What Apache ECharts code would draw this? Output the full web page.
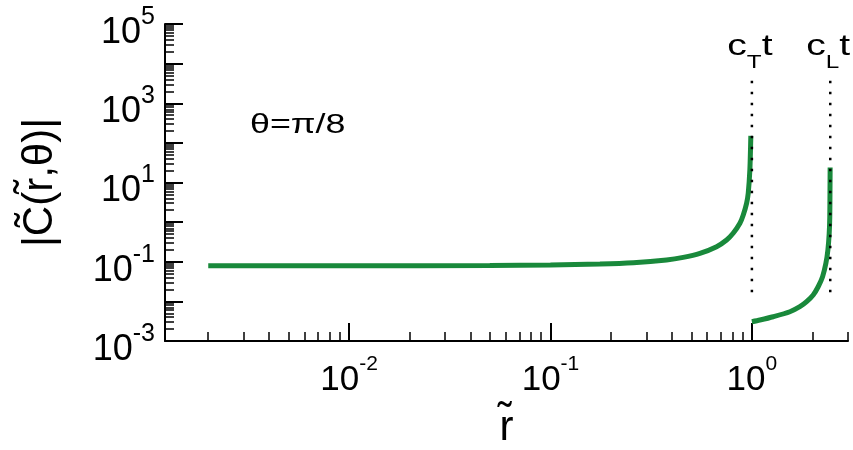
<!DOCTYPE html>
<html>
<head>
<meta charset="utf-8">
<script src="https://cdn.jsdelivr.net/npm/echarts@6/dist/echarts.min.js"></script>
<style>
  html, body { margin: 0; padding: 0; background: #fff; }
  #chart { width: 853px; height: 450px; }
</style>
</head>
<body>
<div id="chart"></div>
<script>
// branch up to the transverse front (r = c_T t)
const rTransverse = [0.002, 0.01, 0.05, 0.1, 0.176, 0.258, 0.377, 0.456, 0.552, 0.668, 0.749, 0.807, 0.872, 0.906, 0.941, 0.959, 0.977, 0.988]
const cTransverse = [0.0791, 0.0793, 0.080, 0.0828, 0.0877, 0.0946, 0.111, 0.129, 0.163, 0.240, 0.354, 0.522, 0.934, 1.51, 2.98, 5.33, 20.7, 150]
// branch between the two fronts
const rLongitudinal = [1.0, 1.096, 1.276, 1.544, 1.730, 1.869, 2.015, 2.133, 2.243, 2.330, 2.384, 2.420, 2.436, 2.442, 2.446]
const cLongitudinal = [0.00307, 0.00339, 0.00410, 0.00548, 0.00734, 0.00982, 0.0145, 0.0234, 0.0420, 0.0914, 0.198, 0.522, 1.37, 6.47, 24]

// wave fronts c_T t and c_L t
const frontR = [1, 2.449]
const frontSub = ['T', 'L']
const frontSpan = [0.0105, 3700]

const xRange = [0.00122, 3]
const yRange = [1e-3, 1e5]
const xMajorExp = [-2, -1, 0]
const yMajorExp = [-3, -2, -1, 0, 1, 2, 3, 4, 5]
const yLabelExp = [-3, -1, 1, 3, 5]
const angleText = 'θ=π/8'

const font = "'Liberation Sans', Arial, Helvetica, sans-serif"
const green = '#19893b'
const L = Math.log10

// log minor ticks (2..9 x 10^d) inside a range
function minorTicks(lo, hi) {
  const out = []
  for (let d = Math.floor(L(lo)); d <= Math.ceil(L(hi)); d++) {
    for (let k = 2; k <= 9; k++) {
      const v = k * Math.pow(10, d)
      if (v >= lo && v <= hi * 1.0001) out.push(L(v))
    }
  }
  return out
}

function pow10(v) {
  return '{b|10}{e|' + Math.round(v) + '}'
}

const chart = echarts.init(document.getElementById('chart'))

const minorAxis = (range, ticks, pos) => ({
  type: 'value',
  min: L(range[0]),
  max: L(range[1]),
  position: pos,
  axisLine: { show: false, onZero: false },
  axisTick: { customValues: ticks, inside: true, length: 9, lineStyle: { color: '#000', width: 1.5 } },
  axisLabel: { show: false },
  splitLine: { show: false }
})

chart.setOption({
  animation: false,
  backgroundColor: '#fff',
  grid: { left: 165, top: 24, width: 683, height: 317, containLabel: false, outerBoundsMode: 'none' },
  xAxis: [{
    type: 'value',
    min: L(xRange[0]),
    max: L(xRange[1]),
    position: 'bottom',
    axisLine: { onZero: false, lineStyle: { color: '#000', width: 2 } },
    axisTick: { customValues: xMajorExp, inside: true, length: 18, lineStyle: { color: '#000', width: 2 } },
    axisLabel: {
      customValues: xMajorExp,
      margin: 13,
      color: '#000',
      formatter: pow10,
      rich: {
        b: { fontSize: 35, fontFamily: font, color: '#000' },
        e: { fontSize: 21, fontFamily: font, color: '#000', padding: [0, 0, 31, 0] }
      }
    },
    splitLine: { show: false },
    name: 'r\u0303',
    nameLocation: 'middle',
    nameGap: 66,
    nameTextStyle: { fontSize: 42, fontFamily: font, color: '#000' }
  }, minorAxis(xRange, minorTicks(xRange[0], xRange[1]), 'bottom')],
  yAxis: [{
    type: 'value',
    min: L(yRange[0]),
    max: L(yRange[1]),
    position: 'left',
    axisLine: { onZero: false, lineStyle: { color: '#000', width: 2 } },
    axisTick: { customValues: yMajorExp, inside: true, length: 18, lineStyle: { color: '#000', width: 2 } },
    axisLabel: {
      customValues: yLabelExp,
      margin: 10,
      color: '#000',
      formatter: pow10,
      rich: {
        b: { fontSize: 36, fontFamily: font, color: '#000', padding: [18, 0, 0, 0] },
        e: { fontSize: 25, fontFamily: font, color: '#000', padding: [0, 0, 14, 0] }
      }
    },
    splitLine: { show: false },
    name: '|C\u0303(r\u0303,θ)|',
    nameLocation: 'middle',
    nameRotate: 90,
    nameGap: 104,
    nameTextStyle: { fontSize: 42, fontFamily: font, color: '#000' }
  }, minorAxis(yRange, minorTicks(yRange[0], yRange[1]), 'left')],
  series: [{
    type: 'line',
    data: rTransverse.map((r, i) => [L(r), L(cTransverse[i])]),
    showSymbol: false,
    smooth: 0.25,
    lineStyle: { color: green, width: 5 },
    z: 3
  }, {
    type: 'line',
    data: rLongitudinal.map((r, i) => [L(r), L(cLongitudinal[i])]),
    showSymbol: false,
    smooth: 0.25,
    lineStyle: { color: green, width: 5 },
    z: 3
  }].concat(frontR.map(r => ({
    type: 'line',
    data: [[L(r), L(frontSpan[1])], [L(r), L(frontSpan[0])]],
    showSymbol: false,
    lineStyle: { color: '#000', width: 2.5, type: [2.5, 8.5], dashOffset: 0 },
    z: 4
  })))
})

// text annotations, fronts placed via the x axis scale
const px = r => chart.convertToPixel({ xAxisIndex: 0 }, L(r))
chart.setOption({
  graphic: [{
    type: 'text',
    x: 250,
    y: 125,
    scaleX: 1.28,
    style: { text: angleText, font: '28px ' + font, fill: '#000', align: 'left', verticalAlign: 'middle' }
  }].concat(frontR.map((r, i) => ({
    type: 'text',
    x: px(r) - 2,
    y: 47,
    scaleX: 1.35,
    style: {
      text: '{n|c}{s|' + frontSub[i] + '}{n|t}',
      fill: '#000',
      align: 'center',
      verticalAlign: 'middle',
      rich: {
        n: { fontSize: 29, fontFamily: font, fill: '#000' },
        s: { fontSize: 18, fontFamily: font, fill: '#000', padding: [33, 0, 0, 0] }
      }
    }
  })))
})
</script>
</body>
</html>
